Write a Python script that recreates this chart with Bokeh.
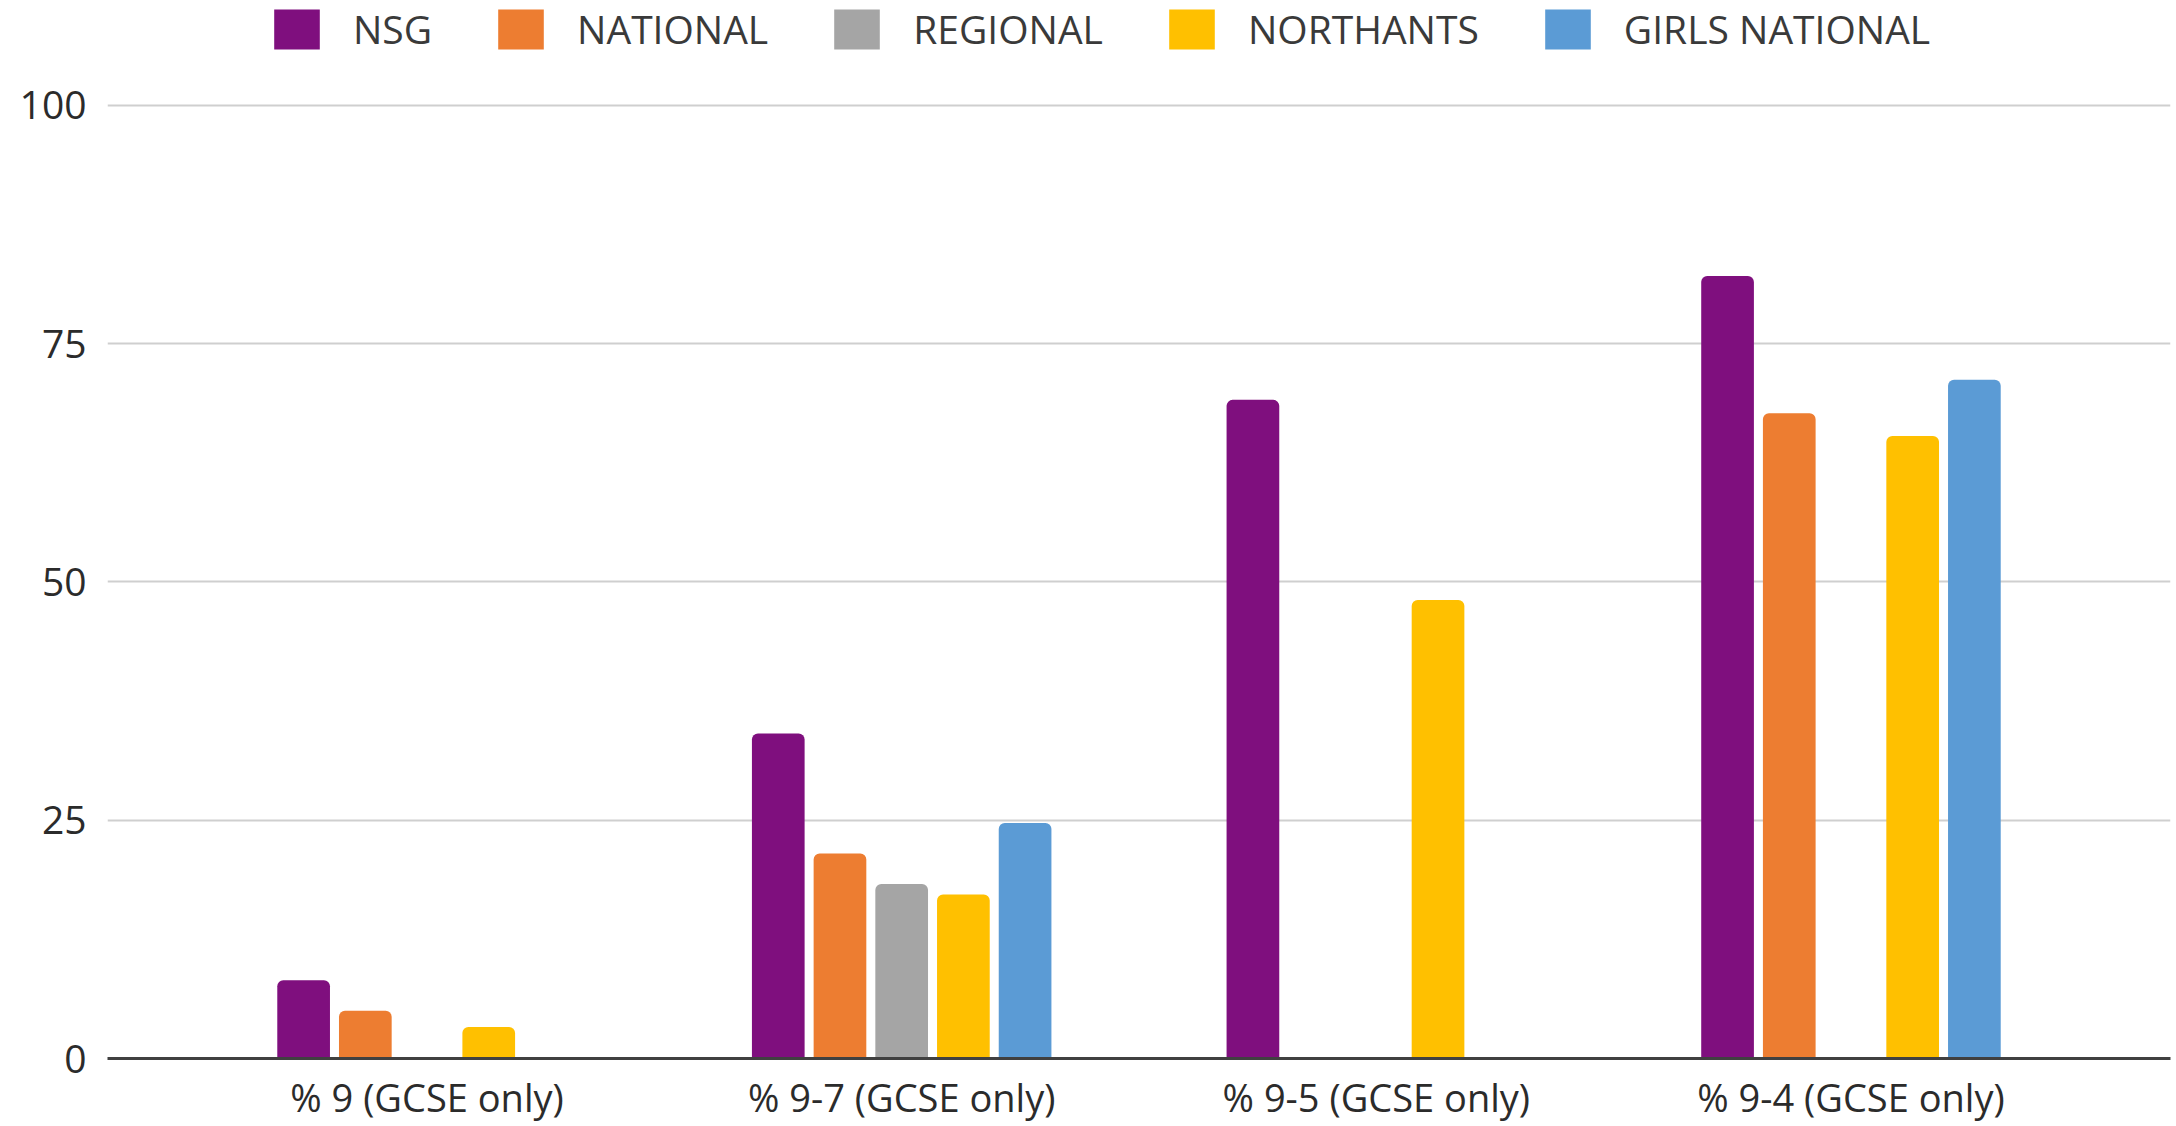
from bokeh.plotting import figure
from bokeh.models import ColumnDataSource, FactorRange, Range1d, FixedTicker, Legend, LegendItem
from bokeh.transform import dodge
from bokeh.embed import file_html
from bokeh.resources import INLINE

categories = ["% 9 (GCSE only)", "% 9-7 (GCSE only)", "% 9-5 (GCSE only)", "% 9-4 (GCSE only)"]
series_names = ["NSG", "NATIONAL", "REGIONAL", "NORTHANTS", "GIRLS NATIONAL"]
nsg = [8.2, 34.1, 69.1, 82.1]
national = [5.0, 21.5, None, 67.7]
regional = [None, 18.3, None, None]
northants = [3.3, 17.2, 48.1, 65.3]
girls_national = [None, 24.7, None, 71.2]
y_ticks = [0, 25, 50, 75, 100]

series_values = [nsg, national, regional, northants, girls_national]
colors = ["#7F0F7E", "#ED7D31", "#A5A5A5", "#FFC000", "#5B9BD5"]
offsets = [-0.26, -0.13, 0.0, 0.13, 0.26]
FONT = "Open Sans"

p = figure(
    x_range=FactorRange(factors=categories, range_padding=0.0866, range_padding_units="percent"),
    y_range=Range1d(0, 111.0),
    frame_width=2063, frame_height=1058,
    output_backend="svg", toolbar_location=None,
    min_border_left=107, min_border_right=4, min_border_top=0, min_border_bottom=0,
)
p.outline_line_color = None
p.background_fill_color = "white"

items = []
for name, vals, col, off in zip(series_names, series_values, colors, offsets):
    xs = [c for c, v in zip(categories, vals) if v is not None]
    ys = [v for v in vals if v is not None]
    src = ColumnDataSource(dict(cat=xs, val=ys))
    r = p.vbar(x=dodge("cat", off, range=p.x_range), top="val", bottom=0, width=0.111,
               source=src, fill_color=col, line_color=None,
               border_radius=dict(top_left=6, top_right=6, bottom_right=0, bottom_left=0))
    items.append(LegendItem(label=name, renderers=[r]))

legend = Legend(items=items, orientation="horizontal", location=(161, 1003))
legend.glyph_width = 57
legend.glyph_height = 50
legend.label_standoff = 28
legend.spacing = 60
legend.padding = 0
legend.margin = 0
legend.border_line_color = None
legend.background_fill_alpha = 0
legend.label_text_font = FONT
legend.label_text_font_size = "39px"
legend.label_text_color = "#3A3A3A"
legend.label_height = 50
p.add_layout(legend)

p.yaxis.ticker = FixedTicker(ticks=y_ticks)
p.yaxis.axis_line_color = None
p.yaxis.major_tick_line_color = None
p.yaxis.minor_tick_line_color = None
p.yaxis.major_label_standoff = 15
p.yaxis.major_label_text_font = FONT
p.yaxis.major_label_text_font_size = "39px"
p.yaxis.major_label_text_color = "#2B2B2B"

p.xaxis.axis_line_color = "#404040"
p.xaxis.axis_line_width = 3
p.xaxis.major_tick_line_color = None
p.xaxis.minor_tick_line_color = None
p.xaxis.major_label_standoff = 6
p.xaxis.major_label_text_font = FONT
p.xaxis.major_label_text_font_size = "38px"
p.xaxis.major_label_text_color = "#2B2B2B"

p.xgrid.grid_line_color = None
p.ygrid.grid_line_color = "#CFCFCF"
p.ygrid.grid_line_width = 2

open("out.html", "w").write(file_html(p, INLINE))
